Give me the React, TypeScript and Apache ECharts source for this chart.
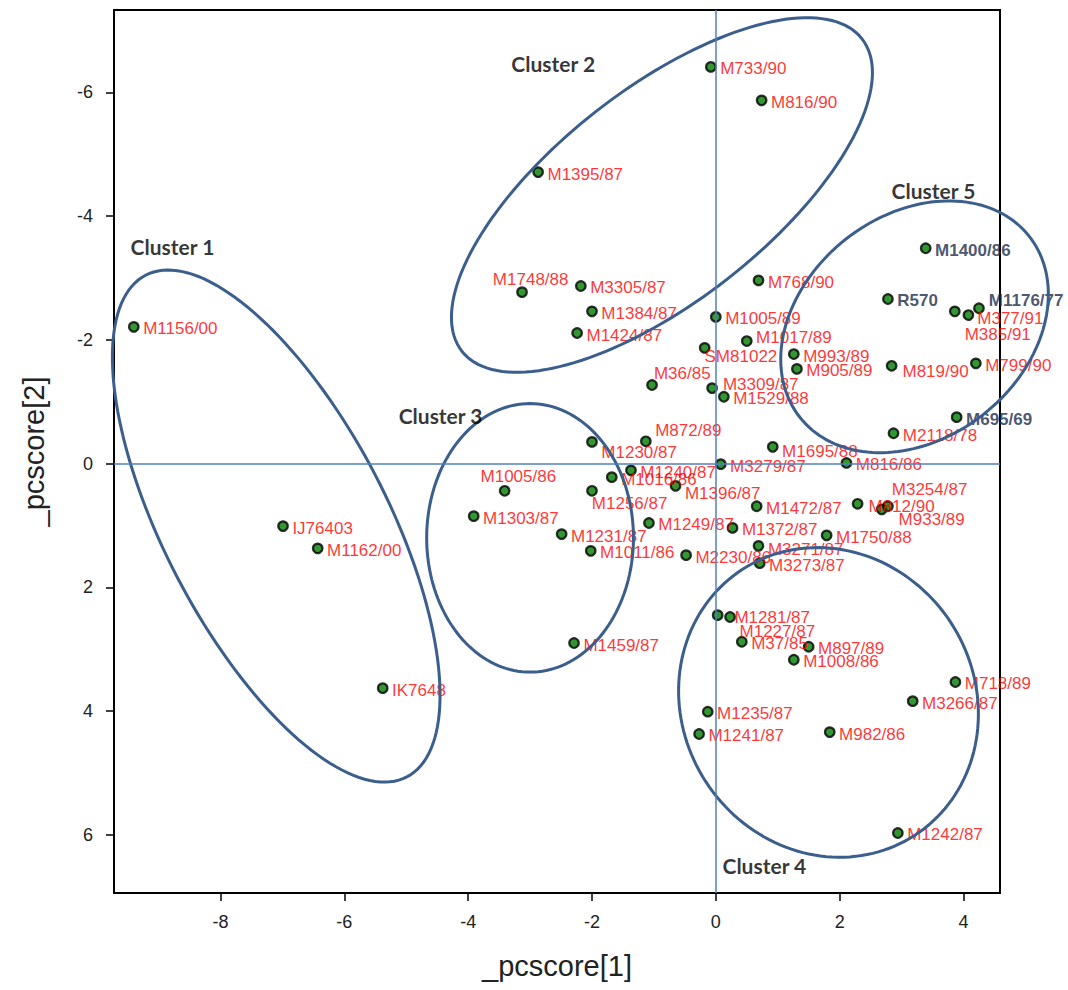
import React, { useEffect, useRef } from "react";
import * as echarts from "echarts";

// Isolate names and principal component scores
const isolates = [
  "M1156/00", "IJ76403", "M1162/00", "IK7648", "M733/90", "M816/90", "M1395/87", "M1748/88",
  "M3305/87", "M1384/87", "M1424/87", "M768/90", "M1005/89", "M1017/89", "SM81022", "M36/85",
  "M3309/87", "M1529/88", "M993/89", "M905/89", "M1400/86", "R570", "M385/91", "M377/91",
  "M1176/77", "M819/90", "M799/90", "M695/69", "M2118/78", "M1695/88", "M816/86", "M3279/87",
  "M872/89", "M1230/87", "M1240/87", "M1016/86", "M1396/87", "M1256/87", "M1005/86", "M1303/87",
  "M1231/87", "M1011/86", "M1249/87", "M2230/86", "M1472/87", "M1372/87", "M812/90", "M933/89",
  "M3254/87", "M1750/88", "M3271/87", "M3273/87", "M1281/87", "M1227/87", "M37/85", "M897/89",
  "M1008/86", "M718/89", "M3266/87", "M1235/87", "M1241/87", "M982/86", "M1242/87", "M1459/87",
];
const pcscore1 = [
  -9.40, -6.99, -6.43, -5.38, -0.08, 0.74, -2.87, -3.13,
  -2.18, -2.00, -2.24, 0.69, 0.00, 0.50, -0.18, -1.03,
  -0.06, 0.13, 1.26, 1.31, 3.39, 2.78, 3.86, 4.08,
  4.25, 2.84, 4.20, 3.89, 2.87, 0.92, 2.11, 0.08,
  -1.13, -2.00, -1.37, -1.68, -0.65, -2.00, -3.41, -3.91,
  -2.49, -2.02, -1.08, -0.48, 0.66, 0.27, 2.29, 2.68,
  2.78, 1.79, 0.69, 0.71, 0.23, 0.03, 0.42, 1.50,
  1.26, 3.87, 3.18, -0.13, -0.27, 1.84, 2.94, -2.29,
];
const pcscore2 = [
  -2.21, 1.01, 1.37, 3.63, -6.41, -5.87, -4.71, -2.77,
  -2.87, -2.46, -2.11, -2.96, -2.37, -1.98, -1.87, -1.27,
  -1.22, -1.08, -1.77, -1.53, -3.48, -2.66, -2.46, -2.40,
  -2.51, -1.58, -1.62, -0.75, -0.49, -0.27, -0.01, 0.01,
  -0.36, -0.35, 0.11, 0.22, 0.36, 0.44, 0.44, 0.85,
  1.14, 1.41, 0.96, 1.48, 0.69, 1.04, 0.65, 0.74,
  0.69, 1.16, 1.33, 1.61, 2.48, 2.45, 2.88, 2.96,
  3.17, 3.53, 3.84, 4.01, 4.37, 4.34, 5.97, 2.90,
];
const referenceIsolates = ["M1400/86", "R570", "M1176/77", "M695/69"];

// Cluster ellipses: centre (pc1, pc2), semi-axes, rotation in degrees
const clusterNames = ["Cluster 1", "Cluster 2", "Cluster 3", "Cluster 4", "Cluster 5"];
const ellipseCx = [-7.10, -0.87, -3.00, 1.82, 3.21];
const ellipseCy = [1.01, -4.34, 1.20, 3.86, -2.21];
const ellipseA = [4.57, 4.10, 2.17, 2.56, 2.36];
const ellipseB = [1.80, 1.72, 1.67, 2.36, 1.80];
const ellipseAngle = [62.5, -38, 90, 57, -38.4];
const clusterLabelX = [-9.46, -3.31, -5.13, 0.10, 2.83];
const clusterLabelY = [-3.50, -6.47, -0.78, 6.50, -4.42];

const xTicks = [-8, -6, -4, -2, 0, 2, 4];
const yTicks = [-6, -4, -2, 0, 2, 4, 6];

// label offsets (styling only)
const labelOffsets: Record<string, [number, number]> = {
  "M1748/88": [-38.5, -13],
  "M1005/86": [-33.5, -14],
  "M872/89": [0, -11],
  "M36/85": [-7.5, -11],
  "M1230/87": [0, 11],
  "M1256/87": [-9.5, 13],
  "SM81022": [-9.5, 9],
  "M1396/87": [0, 8],
  "M3254/87": [-5.5, -17],
  "M812/90": [1.5, 3],
  "M933/89": [7.5, 10],
  "M1227/87": [12.5, 16],
  "M1281/87": [-5, 0],
  "M1176/77": [0.5, -8],
  "M377/91": [-0.5, 3],
  "M385/91": [0.5, 23],
  "M819/90": [1.5, 6],
  "M1017/89": [0, -4],
  "M3309/87": [1.5, -4],
  "M3271/87": [0, 4],
  "M1695/88": [0, 5],
};

export default function App() {
  const ref = useRef<HTMLDivElement>(null);
  useEffect(() => {
    if (!ref.current) return;
    const chart = echarts.init(ref.current, null, { renderer: "svg" });

    const pointData = isolates.map((name, i) => {
      const bold = referenceIsolates.includes(name);
      const off = labelOffsets[name] || [0, 2];
      return {
        name,
        value: [pcscore1[i], pcscore2[i]],
        label: {
          show: true,
          position: "right",
          distance: 3.5,
          offset: off,
          formatter: name,
          fontFamily: "Liberation Sans, Arial, sans-serif",
          fontSize: 17,
          fontWeight: bold ? "bold" : "normal",
          color: bold ? "#1c2b4a" : "#ff0000",
        },
      };
    });

    const ellipseData = clusterNames.map((n, i) => [
      ellipseCx[i], ellipseCy[i], ellipseA[i], ellipseB[i], ellipseAngle[i],
    ]);

    const clusterLabelData = clusterNames.map((n, i) => ({
      name: n,
      value: [clusterLabelX[i], clusterLabelY[i]],
    }));

    const axisLabelStyle = {
      fontFamily: "Liberation Sans, Arial, sans-serif",
      fontSize: 18,
      color: "#222",
    };

    chart.setOption({
      animation: false,
      backgroundColor: "#fff",
      grid: {
        left: 114,
        top: 10,
        right: 68,
        bottom: 97,
        show: true,
        borderColor: "#000",
        borderWidth: 2,
        backgroundColor: "transparent",
      },
      xAxis: {
        type: "value",
        min: -9.72,
        max: 4.59,
        name: "_pcscore[1]",
        nameLocation: "middle",
        nameGap: 58,
        nameTextStyle: {
          fontFamily: "Liberation Sans, Arial, sans-serif",
          fontSize: 29,
          color: "#222",
        },
        axisLine: { show: true, onZero: false, lineStyle: { color: "#000", width: 2 } },
        axisTick: {
          show: true,
          inside: false,
          length: 8,
          customValues: xTicks,
          lineStyle: { color: "#000", width: 1.5 },
        },
        axisLabel: { ...axisLabelStyle, margin: 20, customValues: xTicks },
        splitLine: { show: false },
      },
      yAxis: {
        type: "value",
        inverse: true,
        min: -7.33,
        max: 6.94,
        name: "_pcscore[2]",
        nameLocation: "middle",
        nameGap: 66,
        nameTextStyle: {
          fontFamily: "Liberation Sans, Arial, sans-serif",
          fontSize: 29,
          color: "#222",
        },
        axisLine: { show: true, onZero: false, lineStyle: { color: "#000", width: 2 } },
        axisTick: {
          show: true,
          inside: false,
          length: 8,
          customValues: yTicks,
          lineStyle: { color: "#000", width: 1.5 },
        },
        axisLabel: { ...axisLabelStyle, margin: 21, customValues: yTicks },
        splitLine: { show: false },
      },
      series: [
        {
          type: "scatter",
          z: 2,
          symbol: "circle",
          symbolSize: 9.5,
          itemStyle: { color: "#007c00", borderColor: "#000", borderWidth: 2.2 },
          data: pointData,
          markLine: {
            silent: true,
            symbol: "none",
            label: { show: false },
            lineStyle: { color: "#4f81bd", width: 1.5, type: "solid" },
            data: [{ xAxis: 0 }, { yAxis: 0 }],
          },
        },
        {
          type: "custom",
          z: 3,
          silent: true,
          clip: false,
          encode: { x: 0, y: 1 },
          data: ellipseData,
          renderItem: (params: any, api: any) => {
            const cx = api.value(0);
            const cy = api.value(1);
            const a = api.value(2);
            const b = api.value(3);
            const ang = (api.value(4) * Math.PI) / 180;
            const pts: number[][] = [];
            const n = 160;
            for (let k = 0; k <= n; k++) {
              const t = (k / n) * Math.PI * 2;
              const x = cx + a * Math.cos(t) * Math.cos(ang) - b * Math.sin(t) * Math.sin(ang);
              const y = cy + a * Math.cos(t) * Math.sin(ang) + b * Math.sin(t) * Math.cos(ang);
              pts.push(api.coord([x, y]));
            }
            return {
              type: "polygon",
              shape: { points: pts },
              style: { fill: "none", stroke: "#3b5e8c", lineWidth: 3 },
            };
          },
        },
        {
          type: "scatter",
          z: 4,
          silent: true,
          symbol: "circle",
          symbolSize: 1,
          itemStyle: { color: "rgba(0,0,0,0)" },
          data: clusterLabelData,
          label: {
            show: true,
            position: "right",
            distance: 0,
            formatter: "{b}",
            fontFamily: "Lato, 'Open Sans', sans-serif",
            fontWeight: "bold",
            fontSize: 21,
            color: "#000",
          },
        },
      ],
    });
    return () => chart.dispose();
  }, []);
  return (
    <div
      ref={ref}
      style={{ position: "fixed", left: 0, top: 0, width: 1068, height: 990, background: "#fff" }}
    />
  );
}
